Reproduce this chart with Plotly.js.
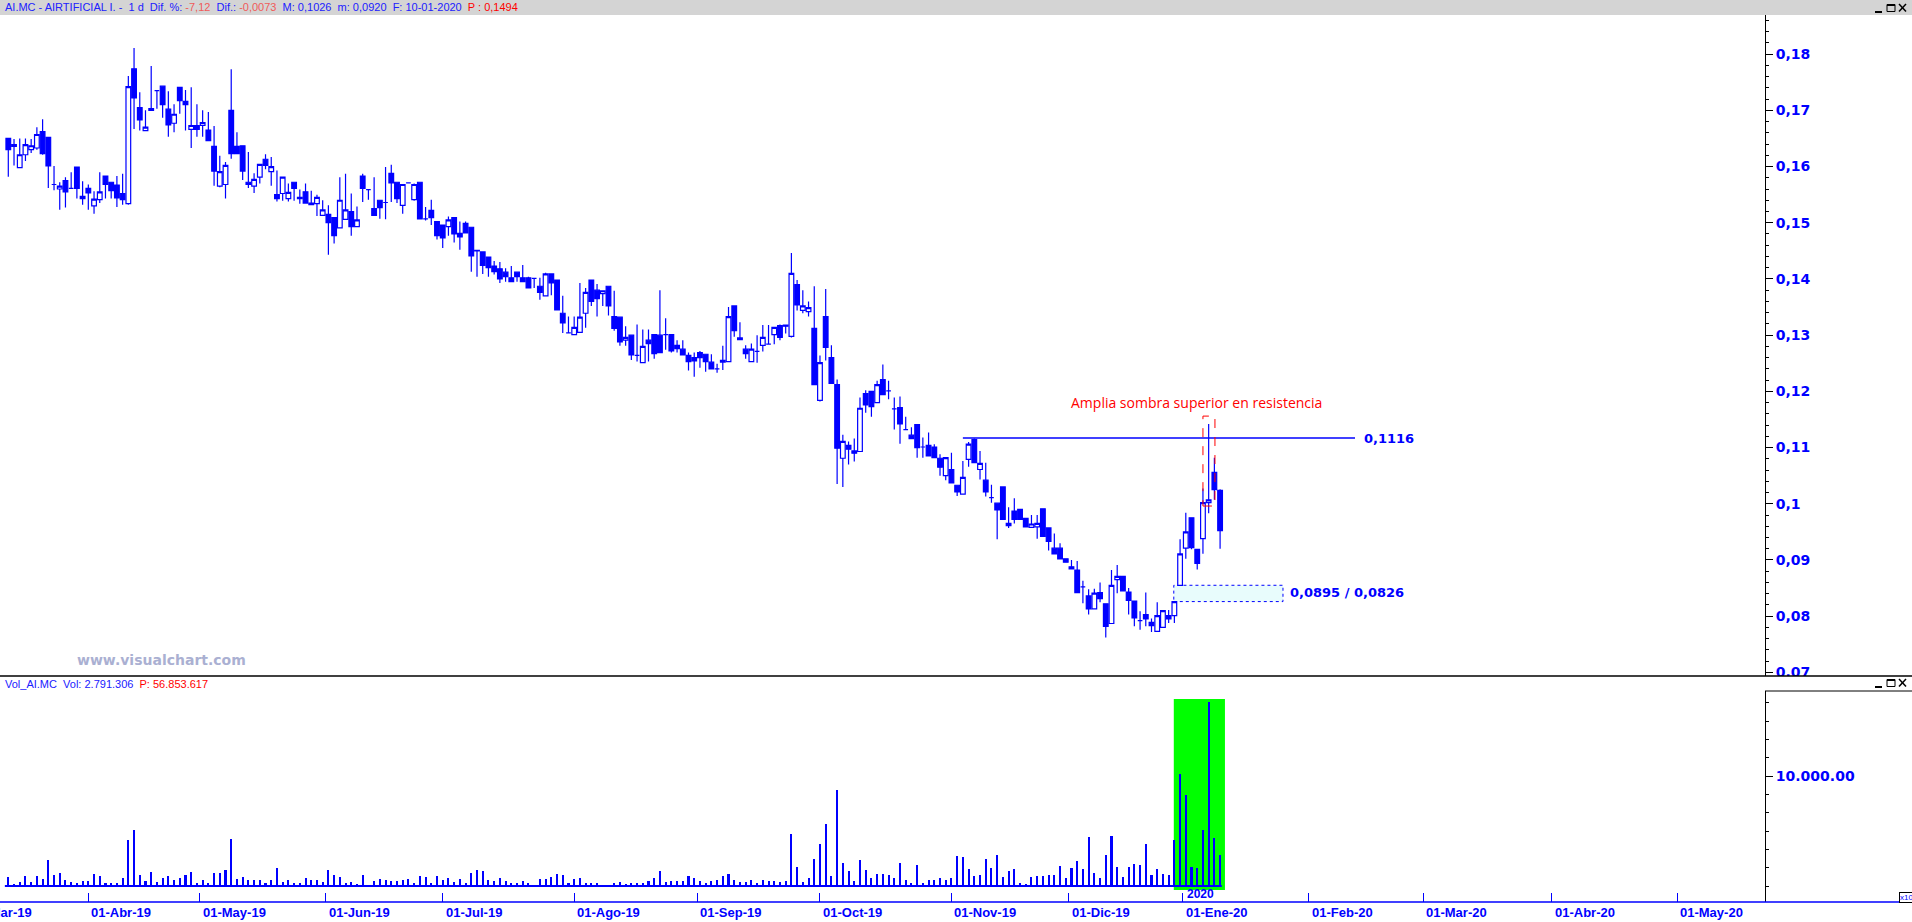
<!DOCTYPE html>
<html>
<head>
<meta charset="utf-8">
<script src="https://cdn.plot.ly/plotly-3.0.1.min.js"></script>
<style>
html,body{margin:0;padding:0;background:#ffffff;overflow:hidden}
#chart{width:1912px;height:922px}
</style>
</head>
<body>
<div id="chart"></div>
<script>
// ---------------- DATA ----------------
const FIRST_DATE = '2019-03-12';
const HOLIDAYS = ['2019-04-19','2019-04-22','2019-05-01','2019-12-25','2019-12-26','2020-01-01'];

const OPEN = [
.1650,.1636,.1598,.1621,.1630,.1633,.1662,.1652,.1568,.1560,
.1575,.1561,.1599,.1547,.1561,.1530,.1541,.1583,.1572,.1567,
.1552,.1534,.1774,.1705,.1664,.1700,.1735,.1743,.1702,.1677,
.1741,.1716,.1666,.1673,.1673,.1665,.1636,.1565,.1568,.1700,
.1636,.1637,.1572,.1565,.1581,.1613,.1591,.1550,.1552,.1543,
.1572,.1545,.1555,.1535,.1534,.1513,.1515,.1509,.1491,.1506,
.1520,.1493,.1583,.1559,.1525,.1540,.1536,.1588,.1572,.1531,
.1571,.1541,.1572,.1507,.1522,.1502,.1496,.1493,.1509,.1481,
.1499,.1492,.1451,.1448,.1439,.1423,.1418,.1412,.1402,.1412,
.1402,.1402,.1401,.1387,.1370,.1409,.1398,.1339,.1304,.1301,
.1305,.1339,.1398,.1380,.1374,.1387,.1333,.1332,.1291,.1300,
.1264,.1251,.1291,.1301,.1300,.1301,.1301,.1282,.1275,.1264,
.1260,.1269,.1266,.1252,.1240,.1252,.1253,.1352,.1295,.1275,
.1253,.1271,.1282,.1284,.1301,.1317,.1318,.1298,.1390,.1344,
.1342,.1312,.1184,.1333,.1260,.1212,.1081,.1104,.1094,.1093,
.1196,.1200,.1180,.1221,.1201,.1169,.1171,.1132,.1122,.1141,
.1101,.1104,.1101,.1081,.1050,.1061,.1033,.1017,.1079,.1114,
.1061,.1042,.1011,.1001,.1030,.0961,.0987,.0990,.0974,.0958,
.0959,.0991,.0957,.0921,.0921,.0902,.0888,.0882,.0852,.0836,
.0813,.0842,.0822,.0787,.0865,.0871,.0843,.0827,.0792,.0803,
.0789,.0773,.0780,.0801,.0801,.0855,.0921,.0975,.0919,.0938,
.1002,.1056,.1024];

const HIGH = [
.1650,.1649,.1650,.1650,.1649,.1670,.1684,.1652,.1601,.1572,
.1581,.1590,.1599,.1574,.1568,.1556,.1590,.1584,.1572,.1583,
.1587,.1761,.1811,.1732,.1700,.1779,.1735,.1743,.1734,.1711,
.1741,.1736,.1741,.1711,.1700,.1697,.1672,.1619,.1608,.1773,
.1661,.1637,.1626,.1588,.1604,.1622,.1617,.1593,.1581,.1570,
.1572,.1559,.1570,.1557,.1550,.1540,.1531,.1509,.1581,.1587,
.1552,.1529,.1587,.1559,.1581,.1540,.1599,.1603,.1572,.1568,
.1571,.1570,.1572,.1528,.1541,.1502,.1496,.1511,.1509,.1502,
.1502,.1492,.1451,.1448,.1439,.1432,.1430,.1419,.1423,.1412,
.1425,.1404,.1401,.1402,.1411,.1409,.1398,.1370,.1333,.1333,
.1393,.1384,.1398,.1391,.1380,.1387,.1379,.1332,.1316,.1300,
.1319,.1310,.1310,.1301,.1380,.1330,.1301,.1291,.1291,.1269,
.1269,.1272,.1266,.1266,.1249,.1281,.1350,.1352,.1323,.1282,
.1285,.1300,.1318,.1318,.1314,.1319,.1318,.1446,.1398,.1380,
.1360,.1387,.1264,.1382,.1282,.1221,.1123,.1111,.1116,.1189,
.1202,.1200,.1219,.1248,.1219,.1189,.1191,.1155,.1136,.1141,
.1118,.1127,.1106,.1088,.1082,.1091,.1033,.1076,.1110,.1116,
.1094,.1073,.1034,.1001,.1030,.0994,.1010,.0990,.0974,.0980,
.0980,.0991,.0957,.0947,.0930,.0902,.0900,.0898,.0863,.0848,
.0849,.0860,.0822,.0882,.0891,.0871,.0850,.0827,.0809,.0842,
.0796,.0825,.0810,.0811,.0826,.0937,.0984,.0975,.0919,.1027,
.1142,.1082,.1026];

const LOW = [
.1582,.1602,.1598,.1610,.1624,.1630,.1621,.1562,.1558,.1523,
.1527,.1560,.1543,.1532,.1523,.1516,.1535,.1543,.1543,.1528,
.1532,.1532,.1667,.1664,.1664,.1700,.1703,.1687,.1653,.1661,
.1694,.1664,.1633,.1653,.1653,.1646,.1566,.1563,.1543,.1614,
.1623,.1576,.1562,.1553,.1570,.1595,.1566,.1538,.1539,.1538,
.1539,.1534,.1535,.1532,.1512,.1513,.1443,.1463,.1491,.1506,
.1477,.1493,.1537,.1541,.1512,.1507,.1506,.1537,.1535,.1516,
.1571,.1539,.1507,.1504,.1496,.1470,.1455,.1477,.1465,.1452,
.1482,.1413,.1404,.1409,.1404,.1408,.1393,.1395,.1395,.1395,
.1395,.1384,.1384,.1363,.1370,.1371,.1345,.1304,.1303,.1301,
.1305,.1313,.1352,.1333,.1352,.1335,.1308,.1281,.1281,.1256,
.1253,.1251,.1253,.1258,.1269,.1274,.1269,.1269,.1265,.1237,
.1226,.1242,.1235,.1240,.1233,.1238,.1253,.1297,.1292,.1258,
.1253,.1251,.1271,.1284,.1284,.1291,.1303,.1296,.1344,.1339,
.1333,.1212,.1182,.1255,.1214,.1035,.1030,.1070,.1075,.1093,
.1162,.1155,.1180,.1194,.1186,.1132,.1107,.1132,.1116,.1082,
.1082,.1085,.1082,.1050,.1042,.1037,.1014,.1017,.1066,.1073,
.1043,.1013,.1002,.0937,.0972,.0957,.0965,.0972,.0959,.0958,
.0938,.0942,.0917,.0911,.0902,.0896,.0884,.0842,.0823,.0803,
.0813,.0825,.0762,.0787,.0841,.0845,.0803,.0782,.0776,.0782,
.0772,.0773,.0780,.0788,.0788,.0855,.0902,.0919,.0883,.0911,
.0983,.1007,.0920];

const CLOSE = [
.1630,.1639,.1621,.1639,.1637,.1657,.1623,.1601,.1568,.1565,
.1555,.1561,.1561,.1543,.1553,.1542,.1555,.1568,.1557,.1544,
.1541,.1742,.1722,.1683,.1670,.1703,.1735,.1710,.1674,.1693,
.1717,.1710,.1673,.1666,.1678,.1646,.1592,.1591,.1602,.1623,
.1623,.1592,.1568,.1577,.1604,.1602,.1600,.1543,.1581,.1554,
.1561,.1543,.1535,.1532,.1545,.1523,.1500,.1477,.1540,.1523,
.1493,.1505,.1561,.1559,.1513,.1527,.1536,.1571,.1543,.1568,
.1571,.1568,.1507,.1507,.1509,.1477,.1473,.1505,.1480,.1475,
.1482,.1441,.1450,.1424,.1420,.1413,.1400,.1404,.1395,.1404,
.1395,.1384,.1401,.1376,.1409,.1393,.1345,.1322,.1304,.1314,
.1332,.1376,.1360,.1365,.1379,.1352,.1312,.1288,.1296,.1265,
.1264,.1280,.1285,.1267,.1269,.1301,.1272,.1276,.1265,.1253,
.1254,.1260,.1253,.1240,.1240,.1255,.1333,.1308,.1292,.1267,
.1275,.1271,.1296,.1284,.1314,.1296,.1316,.1410,.1354,.1352,
.1349,.1212,.1251,.1278,.1214,.1099,.1111,.1097,.1090,.1170,
.1176,.1173,.1212,.1194,.1201,.1169,.1142,.1132,.1116,.1100,
.1101,.1085,.1082,.1065,.1082,.1037,.1021,.1047,.1106,.1073,
.1072,.1021,.1011,.0989,.0972,.0965,.0972,.0972,.0959,.0964,
.0965,.0942,.0933,.0911,.0902,.0896,.0884,.0842,.0852,.0813,
.0841,.0831,.0782,.0855,.0871,.0845,.0828,.0797,.0792,.0795,
.0783,.0801,.0810,.0795,.0826,.0911,.0950,.0922,.0894,.1002,
.1007,.1025,.0952];

// volume in millions of shares
const VOLUME_M = [
0.79,0.18,0.36,0.91,0.36,0.91,0.66,2.36,1.00,1.15,
0.55,0.36,0.30,0.45,0.45,1.09,0.91,0.30,0.25,0.25,
0.70,4.18,5.06,1.00,0.45,1.27,0.36,0.70,0.91,0.55,
0.70,1.00,1.27,0.25,0.55,0.25,1.15,1.15,1.45,4.25,
0.66,0.79,0.55,0.55,0.55,0.25,0.55,1.61,0.36,0.55,
0.25,0.25,0.70,0.55,0.55,0.36,1.45,1.00,0.79,0.30,
0.36,0.18,1.00,0.06,0.45,0.61,0.55,0.45,0.45,0.55,
0.66,0.25,0.91,0.79,0.30,0.91,0.55,0.70,0.36,0.61,
0.30,1.15,1.45,1.36,0.55,0.45,0.70,0.45,0.30,0.25,
0.45,0.25,0.06,0.66,0.66,0.79,1.09,1.00,0.30,0.61,
0.70,0.30,0.25,0.25,0.06,0.06,0.30,0.36,0.18,0.25,
0.25,0.30,0.45,0.70,1.36,0.36,0.48,0.48,0.48,0.91,
0.70,0.48,0.25,0.48,0.55,0.91,1.09,0.55,0.36,0.36,
0.55,0.25,0.55,0.48,0.48,0.39,0.48,4.73,1.70,0.36,
0.70,2.45,3.82,5.64,0.91,8.73,2.09,1.36,0.45,2.36,
1.45,0.70,1.09,1.09,1.00,0.70,2.09,0.55,0.25,1.91,
0.25,0.55,0.55,0.70,0.55,0.70,2.73,2.64,1.55,0.91,
1.00,2.45,1.64,2.82,0.82,1.36,1.55,0.25,0.18,0.82,
0.91,0.91,1.00,1.00,1.82,0.70,1.64,2.27,1.55,4.45,
1.18,0.70,2.82,4.55,1.73,0.82,1.73,2.00,1.91,3.82,
1.00,1.55,1.09,1.00,4.18,10.18,8.27,1.73,1.64,5.09,
16.73,4.36,2.79];

const MONTH_STARTS = ['2019-03-01','2019-04-01','2019-05-01','2019-06-01','2019-07-01','2019-08-01',
  '2019-09-01','2019-10-01','2019-11-01','2019-12-01','2020-01-01','2020-02-01','2020-03-01','2020-04-01','2020-05-01'];
const MONTH_LABELS = ['01-Mar-19','01-Abr-19','01-May-19','01-Jun-19','01-Jul-19','01-Ago-19',
  '01-Sep-19','01-Oct-19','01-Nov-19','01-Dic-19','01-Ene-20','01-Feb-20','01-Mar-20','01-Abr-20','01-May-20'];

const RESISTANCE = 0.1117;
const RESIST_FROM = '2019-11-05', RESIST_TO = '2020-02-12';
const SUPPORT_ZONE = [0.0826, 0.0855];
const ZONE_FROM = '2019-12-30', ZONE_TO = '2020-01-27';
const SHADOW_DAY = '2020-01-08';
const SHADOW_BOX = [0.0996, 0.1156];
const GREEN_FROM = '2019-12-30', GREEN_TO = '2020-01-10';

// ---------------- CALENDAR (trading-day axis) ----------------
function buildCalendar(start, end) {
  const out = [];
  const d = new Date(start + 'T00:00:00Z');
  const e = new Date(end + 'T00:00:00Z');
  while (d <= e) {
    const dow = d.getUTCDay();
    const s = d.toISOString().slice(0, 10);
    if (dow !== 0 && dow !== 6 && !HOLIDAYS.includes(s)) out.push(s);
    d.setUTCDate(d.getUTCDate() + 1);
  }
  return out;
}
const CAL = buildCalendar('2019-03-01', '2020-07-31');
const BASE = CAL.indexOf(FIRST_DATE);
function idxOf(s) {
  const i = CAL.indexOf(s);
  if (i >= 0) return i - BASE;
  const j = CAL.findIndex(c => c > s);
  return j - BASE - 0.5;
}
const X = OPEN.map((_, i) => i);
const DATES = X.map(i => CAL[BASE + i]);

// ---------------- GEOMETRY ----------------
const W = 1912, H = 922, PLOT_R = 1765, PLOT_T = 15, PLOT_B = 902;
const R0 = -1.452, R1 = 307.33;
const PX = px => px / PLOT_R;
const PY = py => (PLOT_B - py) / (PLOT_B - PLOT_T);
const IX = i => (i - R0) / (R1 - R0);

const BLUE = '#0000ff';
const tickIdx = MONTH_STARTS.map(idxOf);

// ---------------- TRACES ----------------
const traces = [
  {
    type: 'candlestick', x: X, open: OPEN, high: HIGH, low: LOW, close: CLOSE,
    text: DATES, xaxis: 'x', yaxis: 'y', whiskerwidth: 0, hoverinfo: 'skip',
    increasing: {line: {color: BLUE, width: 1.2}, fillcolor: '#ffffff'},
    decreasing: {line: {color: BLUE, width: 1.2}, fillcolor: BLUE}
  },
  {
    type: 'bar', x: X, y: VOLUME_M, xaxis: 'x', yaxis: 'y2', width: 0.36,
    marker: {color: BLUE, line: {width: 0}}, hoverinfo: 'skip'
  },
  {
    type: 'scatter', mode: 'lines', x: [X[0] - 0.6, X[X.length - 1] + 0.3], y: [0, 0],
    xaxis: 'x', yaxis: 'y2', line: {color: BLUE, width: 2}, hoverinfo: 'skip'
  }
];

// ---------------- SHAPES ----------------
function icons(top) {
  const s = [];
  const L = (x0, y0, x1, y1, w) => ({type: 'line', xref: 'paper', yref: 'paper',
    x0: PX(x0), y0: PY(y0), x1: PX(x1), y1: PY(y1), line: {color: '#000', width: w}});
  s.push(L(1875, top + 9, 1882, top + 9, 2));
  s.push({type: 'rect', xref: 'paper', yref: 'paper', x0: PX(1887), x1: PX(1895), y0: PY(top + 1.5), y1: PY(top + 8.5),
    line: {color: '#000', width: 1}, fillcolor: 'rgba(0,0,0,0)'});
  s.push(L(1887, top + 2, 1895, top + 2, 2));
  s.push(L(1899, top + 1, 1906, top + 8.5, 1.5));
  s.push(L(1899, top + 8.5, 1906, top + 1, 1.5));
  return s;
}

const shapes = [
  // header bar
  {type: 'rect', xref: 'paper', yref: 'paper', x0: 0, x1: PX(W), y0: PY(0), y1: PY(PLOT_T),
    fillcolor: '#d4d4d4', line: {width: 0}, layer: 'above'},
  // mask under the price pane (cuts the last price label)
  {type: 'rect', xref: 'paper', yref: 'paper', x0: PX(1766), x1: PX(W), y0: PY(676), y1: PY(690.5),
    fillcolor: '#ffffff', line: {width: 0}, layer: 'above'},
  // separator between panes
  {type: 'line', xref: 'paper', yref: 'paper', x0: 0, x1: PX(W), y0: PY(676), y1: PY(676),
    line: {color: '#000', width: 1.5}},
  {type: 'line', xref: 'paper', yref: 'paper', x0: 1, x1: PX(W), y0: PY(691), y1: PY(691),
    line: {color: '#000', width: 1}},
  // bottom axis line
  {type: 'line', xref: 'paper', yref: 'paper', x0: 0, x1: PX(W), y0: 0, y1: 0,
    line: {color: BLUE, width: 1.5}},
  // green highlight in volume pane
  {type: 'rect', xref: 'x', yref: 'y2', x0: idxOf(GREEN_FROM) - 0.1, x1: idxOf(GREEN_TO) + 0.85,
    y0: -0.36, y1: 17.0, fillcolor: '#00ff00', line: {width: 0}, layer: 'below'},
  // support zone
  {type: 'rect', xref: 'x', yref: 'y', x0: idxOf(ZONE_FROM) - 0.1, x1: idxOf(ZONE_TO),
    y0: SUPPORT_ZONE[0], y1: SUPPORT_ZONE[1], fillcolor: '#e8fcfc',
    line: {color: BLUE, width: 1, dash: 'dot'}, layer: 'below'},
  // resistance line
  {type: 'line', xref: 'x', yref: 'y', x0: idxOf(RESIST_FROM), x1: idxOf(RESIST_TO) + 0.6,
    y0: RESISTANCE, y1: RESISTANCE, line: {color: BLUE, width: 1.5}},
  // upper shadow box
  {type: 'rect', xref: 'x', yref: 'y', x0: idxOf(SHADOW_DAY) - 1.0, x1: idxOf(SHADOW_DAY) + 1.1,
    y0: SHADOW_BOX[0], y1: SHADOW_BOX[1], fillcolor: 'rgba(0,0,0,0)',
    line: {color: '#ff0000', width: 1, dash: 'dash'}, layer: 'above'}
].concat(icons(3)).concat(icons(678));

// ---------------- ANNOTATIONS ----------------
const HF = 'Liberation Sans, Arial, sans-serif';
const headerText =
  '<span style="color:#2020ff">AI.MC - AIRTIFICIAL I. -&nbsp;&nbsp;1 d&nbsp;&nbsp;Dif. %: </span>' +
  '<span style="color:#f05a5a">-7,12</span>' +
  '<span style="color:#2020ff">&nbsp;&nbsp;Dif.: </span>' +
  '<span style="color:#f05a5a">-0,0073</span>' +
  '<span style="color:#2020ff">&nbsp;&nbsp;M: 0,1026&nbsp;&nbsp;m: 0,0920&nbsp;&nbsp;F: 10-01-2020&nbsp;&nbsp;</span>' +
  '<span style="color:#ff0000">P : 0,1494</span>';
const volText =
  '<span style="color:#2020ff">Vol_AI.MC&nbsp;&nbsp;Vol: 2.791.306&nbsp;&nbsp;</span>' +
  '<span style="color:#ff0000">P: 56.853.617</span>';

const annotations = [
  {xref: 'paper', yref: 'paper', x: PX(3), y: PY(7.5), xanchor: 'left', yanchor: 'middle',
    text: headerText, showarrow: false, font: {family: HF, size: 11, color: '#2020ff'}},
  {xref: 'paper', yref: 'paper', x: PX(3), y: PY(684), xanchor: 'left', yanchor: 'middle',
    text: volText, showarrow: false, font: {family: HF, size: 11, color: '#2020ff'}},
  {xref: 'paper', yref: 'paper', x: PX(75), y: PY(660), xanchor: 'left', yanchor: 'middle',
    text: 'www.visualchart.com', showarrow: false,
    font: {family: 'DejaVu Sans', size: 14, color: '#aab0d2', weight: 'bold'}},
  {xref: 'x', yref: 'y', x: idxOf(SHADOW_DAY) - 2.2, y: 0.1181, xanchor: 'center', yanchor: 'middle',
    text: 'Amplia sombra superior en resistencia', showarrow: false,
    font: {family: 'Open Sans', size: 14, color: '#ff0000'}},
  {xref: 'x', yref: 'y', x: idxOf(RESIST_TO) + 1.8, y: RESISTANCE, xanchor: 'left', yanchor: 'middle',
    text: '0,1116', showarrow: false,
    font: {family: 'DejaVu Sans', size: 13, color: BLUE, weight: 'bold'}},
  {xref: 'x', yref: 'y', x: idxOf(ZONE_TO) + 0.8, y: 0.0843, xanchor: 'left', yanchor: 'middle',
    text: '0,0895 / 0,0826', showarrow: false,
    font: {family: 'DejaVu Sans', size: 13, color: BLUE, weight: 'bold'}},
  {xref: 'paper', yref: 'paper', x: PX(1185), y: PY(894), xanchor: 'left', yanchor: 'middle',
    text: '2020', showarrow: false, font: {family: HF, size: 12, color: BLUE, weight: 'bold'}},
  {xref: 'paper', yref: 'paper', x: PX(1899), y: PY(897), xanchor: 'left', yanchor: 'middle',
    text: 'x10', showarrow: false, font: {family: HF, size: 8, color: BLUE},
    bordercolor: '#000', borderwidth: 1, borderpad: 0, bgcolor: '#ffffff'}
];
MONTH_STARTS.forEach((m, k) => {
  annotations.push({xref: 'paper', yref: 'paper', x: IX(tickIdx[k]), y: PY(912.5),
    xanchor: 'left', yanchor: 'middle', xshift: 1, text: MONTH_LABELS[k], showarrow: false,
    font: {family: HF, size: 13, color: BLUE, weight: 'bold'}});
});

// ---------------- LAYOUT ----------------
const layout = {
  width: W, height: H,
  margin: {l: 0, r: W - PLOT_R, t: PLOT_T, b: H - PLOT_B, pad: 0},
  paper_bgcolor: '#ffffff', plot_bgcolor: '#ffffff', showlegend: false,
  separators: ',.', boxgap: 0.18, boxgroupgap: 0, bargap: 0,
  xaxis: {range: [R0, R1], anchor: 'y2', showgrid: false, zeroline: false, showline: false,
    rangeslider: {visible: false}, tickmode: 'array', tickvals: tickIdx, ticks: 'inside',
    ticklen: 9, tickcolor: BLUE, tickwidth: 1, showticklabels: false, fixedrange: true},
  yaxis: {domain: [PY(676), 1], anchor: 'x', side: 'right', range: [0.06936, 0.18696],
    tickmode: 'linear', tick0: 0, dtick: 0.01, ticks: 'outside', ticklen: 7, tickcolor: '#000',
    tickwidth: 1, showline: true, linecolor: '#000', linewidth: 1, showgrid: false, zeroline: false,
    tickfont: {family: 'DejaVu Sans', size: 14, color: BLUE, weight: 'bold'},
    minor: {dtick: 0.002, tick0: 0, ticks: 'outside', ticklen: 3, tickcolor: '#000', tickwidth: 1, showgrid: false},
    fixedrange: true},
  yaxis2: {domain: [0, PY(691)], anchor: 'x', side: 'right', range: [-1.455, 17.73],
    tickmode: 'array', tickvals: [10], ticktext: ['10.000.00'], ticks: 'outside', ticklen: 7,
    tickcolor: '#000', tickwidth: 1, showline: true, linecolor: '#000', linewidth: 1,
    showgrid: false, zeroline: false,
    tickfont: {family: 'DejaVu Sans', size: 14, color: BLUE, weight: 'bold'},
    minor: {dtick: 10 / 6, tick0: 0, ticks: 'outside', ticklen: 3, tickcolor: '#000', tickwidth: 1, showgrid: false},
    fixedrange: true},
  shapes: shapes,
  annotations: annotations
};

if ([HIGH, LOW, CLOSE, VOLUME_M].some(a => a.length !== OPEN.length)) {
  console.error('array length mismatch', OPEN.length, HIGH.length, LOW.length, CLOSE.length, VOLUME_M.length);
}

Plotly.newPlot('chart', traces, layout, {staticPlot: true, displayModeBar: false});
</script>
</body>
</html>
